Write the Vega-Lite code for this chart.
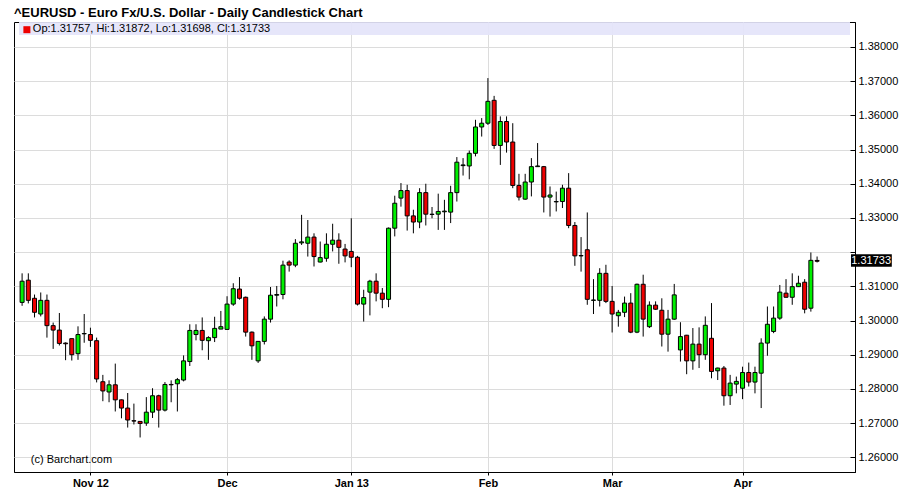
{
  "$schema": "https://vega.github.io/schema/vega-lite/v6.json",
  "width": 841,
  "height": 450,
  "autosize": {"type": "none"},
  "padding": {"left": 14, "top": 22, "right": 45, "bottom": 22},
  "background": "white",
  "title": {"text": "^EURUSD - Euro Fx/U.S. Dollar - Daily Candlestick Chart", "anchor": "start", "fontSize": 13, "font": "Liberation Sans", "fontWeight": "bold", "color": "black", "offset": 6, "baseline": "alphabetic", "dy": 14},
  "config": {
    "font": "Liberation Sans",
    "view": {"stroke": "black", "strokeWidth": 1},
    "axis": {"gridColor": "#dcdcdc", "gridWidth": 1, "domainColor": "black", "tickColor": "black", "labelColor": "black", "titleColor": "black"},
    "axisY": {"tickCount": 13, "labelOverlap": false}
  },
  "datasets": {
    "ohlc": [
      {"i":0,"o":1.3053,"h":1.3138,"l":1.3043,"c":1.3115},
      {"i":1,"o":1.3118,"h":1.3138,"l":1.3050,"c":1.3059},
      {"i":2,"o":1.3065,"h":1.3076,"l":1.3009,"c":1.3024},
      {"i":3,"o":1.3019,"h":1.3082,"l":1.3012,"c":1.3059},
      {"i":4,"o":1.3059,"h":1.3076,"l":1.2950,"c":1.2985},
      {"i":5,"o":1.2985,"h":1.2994,"l":1.2917,"c":1.2972},
      {"i":6,"o":1.2972,"h":1.3022,"l":1.2927,"c":1.2933},
      {"i":7,"o":1.2934,"h":1.2936,"l":1.2884,"c":1.2932},
      {"i":8,"o":1.2947,"h":1.2947,"l":1.2883,"c":1.2900},
      {"i":9,"o":1.2903,"h":1.2983,"l":1.2885,"c":1.2959},
      {"i":10,"o":1.2961,"h":1.3019,"l":1.2935,"c":1.2962},
      {"i":11,"o":1.2959,"h":1.2979,"l":1.2923,"c":1.2942},
      {"i":12,"o":1.2941,"h":1.2950,"l":1.2819,"c":1.2829},
      {"i":13,"o":1.2821,"h":1.2841,"l":1.2764,"c":1.2794},
      {"i":14,"o":1.2791,"h":1.2825,"l":1.2761,"c":1.2812},
      {"i":15,"o":1.2812,"h":1.2874,"l":1.2734,"c":1.2768},
      {"i":16,"o":1.2768,"h":1.2769,"l":1.2714,"c":1.2744},
      {"i":17,"o":1.2744,"h":1.2788,"l":1.2687,"c":1.2709},
      {"i":18,"o":1.2707,"h":1.2757,"l":1.2696,"c":1.2706},
      {"i":19,"o":1.2705,"h":1.2706,"l":1.2658,"c":1.2699},
      {"i":20,"o":1.2700,"h":1.2776,"l":1.2692,"c":1.2732},
      {"i":21,"o":1.2732,"h":1.2802,"l":1.2715,"c":1.2780},
      {"i":22,"o":1.2780,"h":1.2783,"l":1.2687,"c":1.2738},
      {"i":23,"o":1.2738,"h":1.2820,"l":1.2734,"c":1.2813},
      {"i":24,"o":1.2813,"h":1.2825,"l":1.2761,"c":1.2812},
      {"i":25,"o":1.2815,"h":1.2832,"l":1.2734,"c":1.2827},
      {"i":26,"o":1.2826,"h":1.2898,"l":1.2822,"c":1.2882},
      {"i":27,"o":1.2880,"h":1.2989,"l":1.2867,"c":1.2971},
      {"i":28,"o":1.2959,"h":1.2989,"l":1.2942,"c":1.2971},
      {"i":29,"o":1.2971,"h":1.3009,"l":1.2913,"c":1.2942},
      {"i":30,"o":1.2941,"h":1.2954,"l":1.2885,"c":1.2950},
      {"i":31,"o":1.2950,"h":1.3011,"l":1.2937,"c":1.2977},
      {"i":32,"o":1.2975,"h":1.3028,"l":1.2975,"c":1.2982},
      {"i":33,"o":1.2974,"h":1.3071,"l":1.2974,"c":1.3048},
      {"i":34,"o":1.3048,"h":1.3109,"l":1.3043,"c":1.3093},
      {"i":35,"o":1.3092,"h":1.3127,"l":1.3061,"c":1.3065},
      {"i":36,"o":1.3068,"h":1.3070,"l":1.2953,"c":1.2966},
      {"i":37,"o":1.2966,"h":1.2968,"l":1.2885,"c":1.2926},
      {"i":38,"o":1.2882,"h":1.2940,"l":1.2876,"c":1.2939},
      {"i":39,"o":1.2939,"h":1.3012,"l":1.2930,"c":1.3004},
      {"i":40,"o":1.3004,"h":1.3098,"l":1.2994,"c":1.3074},
      {"i":41,"o":1.3074,"h":1.3101,"l":1.3041,"c":1.3076},
      {"i":42,"o":1.3076,"h":1.3175,"l":1.3062,"c":1.3162},
      {"i":43,"o":1.3171,"h":1.3176,"l":1.3143,"c":1.3162},
      {"i":44,"o":1.3162,"h":1.3238,"l":1.3156,"c":1.3226},
      {"i":45,"o":1.3227,"h":1.3309,"l":1.3221,"c":1.3230},
      {"i":46,"o":1.3226,"h":1.3294,"l":1.3187,"c":1.3244},
      {"i":47,"o":1.3244,"h":1.3255,"l":1.3158,"c":1.3187},
      {"i":48,"o":1.3171,"h":1.3231,"l":1.3170,"c":1.3184},
      {"i":49,"o":1.3182,"h":1.3255,"l":1.3172,"c":1.3223},
      {"i":50,"o":1.3223,"h":1.3283,"l":1.3202,"c":1.3235},
      {"i":51,"o":1.3235,"h":1.3255,"l":1.3166,"c":1.3214},
      {"i":52,"o":1.3209,"h":1.3224,"l":1.3170,"c":1.3189},
      {"i":53,"o":1.3202,"h":1.3299,"l":1.3156,"c":1.3185},
      {"i":54,"o":1.3185,"h":1.3189,"l":1.3044,"c":1.3048},
      {"i":55,"o":1.3048,"h":1.3090,"l":1.2997,"c":1.3067},
      {"i":56,"o":1.3083,"h":1.3119,"l":1.3015,"c":1.3115},
      {"i":57,"o":1.3115,"h":1.3138,"l":1.3056,"c":1.3080},
      {"i":58,"o":1.3080,"h":1.3095,"l":1.3036,"c":1.3062},
      {"i":59,"o":1.3062,"h":1.3272,"l":1.3039,"c":1.3270},
      {"i":60,"o":1.3270,"h":1.3365,"l":1.3246,"c":1.3343},
      {"i":61,"o":1.3358,"h":1.3402,"l":1.3333,"c":1.3380},
      {"i":62,"o":1.3380,"h":1.3397,"l":1.3263,"c":1.3306},
      {"i":63,"o":1.3306,"h":1.3324,"l":1.3255,"c":1.3288},
      {"i":64,"o":1.3288,"h":1.3387,"l":1.3270,"c":1.3374},
      {"i":65,"o":1.3374,"h":1.3400,"l":1.3278,"c":1.3311},
      {"i":66,"o":1.3311,"h":1.3332,"l":1.3299,"c":1.3310},
      {"i":67,"o":1.3311,"h":1.3371,"l":1.3265,"c":1.3319},
      {"i":68,"o":1.3318,"h":1.3353,"l":1.3265,"c":1.3320},
      {"i":69,"o":1.3317,"h":1.3394,"l":1.3285,"c":1.3374},
      {"i":70,"o":1.3374,"h":1.3478,"l":1.3348,"c":1.3463},
      {"i":71,"o":1.3453,"h":1.3475,"l":1.3424,"c":1.3455},
      {"i":72,"o":1.3452,"h":1.3497,"l":1.3413,"c":1.3489},
      {"i":73,"o":1.3489,"h":1.3587,"l":1.3480,"c":1.3566},
      {"i":74,"o":1.3566,"h":1.3592,"l":1.3538,"c":1.3577},
      {"i":75,"o":1.3577,"h":1.3709,"l":1.3572,"c":1.3641},
      {"i":76,"o":1.3644,"h":1.3657,"l":1.3502,"c":1.3512},
      {"i":77,"o":1.3512,"h":1.3597,"l":1.3455,"c":1.3582},
      {"i":78,"o":1.3582,"h":1.3597,"l":1.3491,"c":1.3522},
      {"i":79,"o":1.3522,"h":1.3577,"l":1.3387,"c":1.3395},
      {"i":80,"o":1.3395,"h":1.3429,"l":1.3351,"c":1.3361},
      {"i":81,"o":1.3355,"h":1.3429,"l":1.3353,"c":1.3405},
      {"i":82,"o":1.3405,"h":1.3475,"l":1.3363,"c":1.3450},
      {"i":83,"o":1.3450,"h":1.3519,"l":1.3449,"c":1.3452},
      {"i":84,"o":1.3450,"h":1.3452,"l":1.3316,"c":1.3361},
      {"i":85,"o":1.3361,"h":1.3392,"l":1.3304,"c":1.3367},
      {"i":86,"o":1.3347,"h":1.3377,"l":1.3319,"c":1.3348},
      {"i":87,"o":1.3348,"h":1.3397,"l":1.3329,"c":1.3387},
      {"i":88,"o":1.3387,"h":1.3431,"l":1.3270,"c":1.3278},
      {"i":89,"o":1.3278,"h":1.3288,"l":1.3160,"c":1.3189},
      {"i":90,"o":1.3190,"h":1.3244,"l":1.3143,"c":1.3189},
      {"i":91,"o":1.3207,"h":1.3316,"l":1.3046,"c":1.3062},
      {"i":92,"o":1.3059,"h":1.3121,"l":1.3019,"c":1.3060},
      {"i":93,"o":1.3059,"h":1.3153,"l":1.3041,"c":1.3138},
      {"i":94,"o":1.3138,"h":1.3163,"l":1.3051,"c":1.3056},
      {"i":95,"o":1.3056,"h":1.3101,"l":1.2965,"c":1.3019},
      {"i":96,"o":1.3014,"h":1.3031,"l":1.2982,"c":1.3024},
      {"i":97,"o":1.3024,"h":1.3070,"l":1.3010,"c":1.3051},
      {"i":98,"o":1.3051,"h":1.3080,"l":1.2963,"c":1.2966},
      {"i":99,"o":1.2966,"h":1.3108,"l":1.2963,"c":1.3106},
      {"i":100,"o":1.3106,"h":1.3134,"l":1.2953,"c":1.3004},
      {"i":101,"o":1.2982,"h":1.3056,"l":1.2978,"c":1.3045},
      {"i":102,"o":1.3045,"h":1.3056,"l":1.3031,"c":1.3033},
      {"i":103,"o":1.3030,"h":1.3065,"l":1.2924,"c":1.2960},
      {"i":104,"o":1.2960,"h":1.3031,"l":1.2909,"c":1.3004},
      {"i":105,"o":1.3004,"h":1.3107,"l":1.3002,"c":1.3075},
      {"i":106,"o":1.2914,"h":1.2995,"l":1.2880,"c":1.2953},
      {"i":107,"o":1.2957,"h":1.2958,"l":1.2843,"c":1.2882},
      {"i":108,"o":1.2882,"h":1.2978,"l":1.2856,"c":1.2931},
      {"i":109,"o":1.2931,"h":1.2980,"l":1.2861,"c":1.2900},
      {"i":110,"o":1.2900,"h":1.3012,"l":1.2885,"c":1.2986},
      {"i":111,"o":1.2948,"h":1.3051,"l":1.2831,"c":1.2851},
      {"i":112,"o":1.2853,"h":1.2862,"l":1.2826,"c":1.2861},
      {"i":113,"o":1.2861,"h":1.2867,"l":1.2751,"c":1.2780},
      {"i":114,"o":1.2780,"h":1.2841,"l":1.2753,"c":1.2817},
      {"i":115,"o":1.2814,"h":1.2836,"l":1.2787,"c":1.2822},
      {"i":116,"o":1.2802,"h":1.2865,"l":1.2770,"c":1.2848},
      {"i":117,"o":1.2848,"h":1.2877,"l":1.2807,"c":1.2820},
      {"i":118,"o":1.2820,"h":1.2865,"l":1.2787,"c":1.2848},
      {"i":119,"o":1.2846,"h":1.2948,"l":1.2744,"c":1.2934},
      {"i":120,"o":1.2934,"h":1.3041,"l":1.2897,"c":1.2989},
      {"i":121,"o":1.2968,"h":1.3041,"l":1.2963,"c":1.3007},
      {"i":122,"o":1.3007,"h":1.3104,"l":1.3002,"c":1.3083},
      {"i":123,"o":1.3080,"h":1.3121,"l":1.3067,"c":1.3068},
      {"i":124,"o":1.3068,"h":1.3138,"l":1.3046,"c":1.3099},
      {"i":125,"o":1.3099,"h":1.3131,"l":1.3098,"c":1.3109},
      {"i":126,"o":1.3112,"h":1.3121,"l":1.3021,"c":1.3033},
      {"i":127,"o":1.3036,"h":1.3199,"l":1.3026,"c":1.3176},
      {"i":128,"o":1.31757,"h":1.31872,"l":1.31698,"c":1.31733}
    ]
  },
  "layer": [
    {
      "data": {"name": "ohlc"},
      "mark": {"type": "rule", "color": "black", "strokeWidth": 1},
      "encoding": {
        "x": {"field": "i", "type": "quantitative",
          "scale": {"domain": [-0.5, 133.3], "nice": false, "zero": false},
          "axis": {"title": null, "values": [11, 33, 53, 75, 95, 116], "labelExpr": "datum.value == 11 ? 'Nov 12' : datum.value == 33 ? 'Dec' : datum.value == 53 ? 'Jan 13' : datum.value == 75 ? 'Feb' : datum.value == 95 ? 'Mar' : 'Apr'", "labelFont": "Liberation Sans", "labelFontWeight": "bold", "labelFontSize": 11, "tickSize": 3, "labelPadding": 2, "grid": true, "domain": true}},
        "y": {"field": "l", "type": "quantitative",
          "scale": {"domain": [1.2557, 1.3873], "nice": false, "zero": false},
          "axis": {"title": null, "orient": "right", "values": [1.26, 1.27, 1.28, 1.29, 1.3, 1.31, 1.32, 1.33, 1.34, 1.35, 1.36, 1.37, 1.38], "format": ".5f", "labelExpr": "abs(datum.value - 1.32) < 0.0001 ? '' : datum.label", "labelFont": "Liberation Sans", "labelFontSize": 11, "tickSize": -5, "labelPadding": 8, "labelOverlap": false, "grid": true}},
        "y2": {"field": "h"}
      }
    },
    {
      "data": {"name": "ohlc"},
      "mark": {"type": "bar", "size": 4, "stroke": "black", "strokeWidth": 1},
      "encoding": {
        "x": {"field": "i", "type": "quantitative"},
        "y": {"field": "o", "type": "quantitative",
          "axis": {"title": null, "orient": "right", "values": [1.26, 1.27, 1.28, 1.29, 1.3, 1.31, 1.32, 1.33, 1.34, 1.35, 1.36, 1.37, 1.38], "format": ".5f", "labelExpr": "abs(datum.value - 1.32) < 0.0001 ? '' : datum.label", "labelFont": "Liberation Sans", "labelFontSize": 11, "tickSize": -5, "labelPadding": 8, "labelOverlap": false, "grid": true}},
        "y2": {"field": "c"},
        "color": {"condition": {"test": "datum.c >= datum.o", "value": "#00f000"}, "value": "#ee0000"}
      }
    },
    {
      "data": {"values": [{"name": "band"}]},
      "mark": {"type": "rect", "color": "#e4e4fa", "opacity": 0.92},
      "encoding": {
        "x": {"datum": -0.5, "type": "quantitative"},
        "x2": {"datum": 133.3},
        "y": {"datum": 1.38348, "type": "quantitative"},
        "y2": {"datum": 1.3873}
      }
    },
    {
      "data": {"values": [{"name": "swatch"}]},
      "mark": {"type": "point", "shape": "square", "filled": true, "size": 49, "color": "#ee0000", "opacity": 1},
      "encoding": {"x": {"datum": 0.77, "type": "quantitative"}, "y": {"datum": 1.38505, "type": "quantitative"}}
    },
    {
      "data": {"values": [{"label": "Op:1.31757, Hi:1.31872, Lo:1.31698, Cl:1.31733"}]},
      "mark": {"type": "text", "align": "left", "baseline": "middle", "fontSize": 11, "font": "Liberation Sans", "color": "black"},
      "encoding": {"x": {"datum": 1.73, "type": "quantitative"}, "y": {"datum": 1.38525, "type": "quantitative"}, "text": {"field": "label"}}
    },
    {
      "data": {"values": [{"label": "(c) Barchart.com"}]},
      "mark": {"type": "text", "align": "left", "baseline": "middle", "fontSize": 11, "font": "Liberation Sans", "color": "black"},
      "encoding": {"x": {"datum": 1.41, "type": "quantitative"}, "y": {"datum": 1.25921, "type": "quantitative"}, "text": {"field": "label"}}
    },
    {
      "data": {"values": [{"name": "pricebox"}]},
      "mark": {"type": "rect", "color": "black", "clip": false},
      "encoding": {
        "x": {"datum": 133.46, "type": "quantitative"}, "x2": {"datum": 140.03},
        "y": {"datum": 1.31573, "type": "quantitative"}, "y2": {"datum": 1.31936}
      }
    },
    {
      "data": {"values": [{"label": "1.31733"}]},
      "mark": {"type": "text", "align": "left", "baseline": "middle", "fontSize": 11, "font": "Liberation Sans", "color": "white", "clip": false},
      "encoding": {"x": {"datum": 133.5, "type": "quantitative"}, "y": {"datum": 1.31755, "type": "quantitative"}, "text": {"field": "label"}}
    }
  ]
}
